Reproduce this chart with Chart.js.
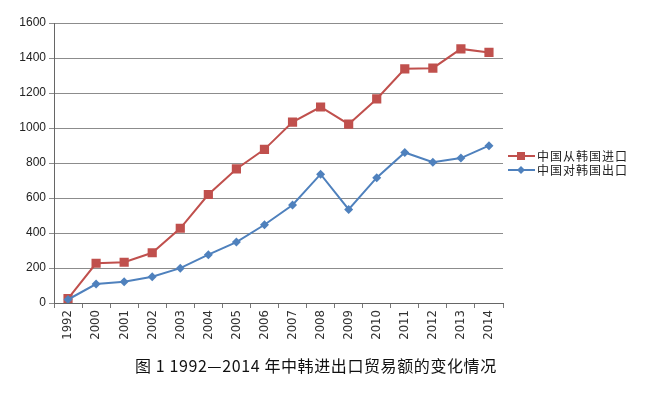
<!DOCTYPE html>
<html>
<head>
<meta charset="utf-8">
<script src="https://cdn.jsdelivr.net/npm/chart.js@4/dist/chart.umd.min.js"></script>
<style>
  html, body { margin: 0; padding: 0; background: #fff; }
  #wrap { width: 648px; height: 395px; position: relative; }
</style>
</head>
<body>
<div id="wrap"><canvas id="tradeChart" width="648" height="395"></canvas></div>
<script>
// 数据（单位：亿美元）
const years = ["1992", "2000", "2001", "2002", "2003", "2004", "2005", "2006", "2007",
               "2008", "2009", "2010", "2011", "2012", "2013", "2014"];
const importFromKorea = [25, 227, 233, 287, 427, 620, 766, 878, 1034, 1120, 1022, 1166, 1338, 1342, 1452, 1432];
const exportToKorea = [20, 108, 121, 150, 199, 276, 348, 447, 560, 736, 535, 716, 860, 804, 828, 899];
const yTicks = [0, 200, 400, 600, 800, 1000, 1200, 1400, 1600];
const seriesNames = ["中国从韩国进口", "中国对韩国出口"];
const caption = "图 1 1992—2014 年中韩进出口贸易额的变化情况";

const RED = "#C0504D";
const BLUE = "#4F81BD";

// 右侧图例 + 底部标题
const extrasPlugin = {
    id: "extras",
    afterDraw(chart) {
        const ctx = chart.ctx;
        ctx.save();
        const rows = [
            { name: seriesNames[0], color: RED, style: "rect", y: 156 },
            { name: seriesNames[1], color: BLUE, style: "diamond", y: 170 }
        ];
        rows.forEach(r => {
            ctx.strokeStyle = r.color;
            ctx.lineWidth = 2;
            ctx.beginPath();
            ctx.moveTo(508, r.y);
            ctx.lineTo(535, r.y);
            ctx.stroke();
            ctx.fillStyle = r.color;
            if (r.style === "rect") {
                ctx.fillRect(517, r.y - 4, 8, 8);
            } else {
                ctx.beginPath();
                ctx.moveTo(521, r.y - 4);
                ctx.lineTo(525, r.y);
                ctx.lineTo(521, r.y + 4);
                ctx.lineTo(517, r.y);
                ctx.closePath();
                ctx.fill();
            }
            ctx.fillStyle = "#222";
            ctx.font = "12px 'Noto Sans CJK SC'";
            ctx.letterSpacing = "1px";
            ctx.textAlign = "left";
            ctx.textBaseline = "middle";
            ctx.fillText(r.name, 537, r.y);
        });

        ctx.fillStyle = "#111";
        ctx.font = "16px 'Noto Sans CJK SC'";
        ctx.letterSpacing = "0.6px";
        ctx.textAlign = "left";
        ctx.textBaseline = "middle";
        ctx.fillText(caption, 135, 366);
        ctx.restore();
    }
};

const ctx = document.getElementById("tradeChart").getContext("2d");
new Chart(ctx, {
    type: "line",
    data: {
        labels: years,
        datasets: [{
            label: seriesNames[1],
            data: exportToKorea,
            borderColor: BLUE,
            backgroundColor: BLUE,
            borderWidth: 2,
            pointStyle: "rectRot",
            pointRadius: 4.5,
            pointBorderWidth: 0,
            tension: 0
        }, {
            label: seriesNames[0],
            data: importFromKorea,
            borderColor: RED,
            backgroundColor: RED,
            borderWidth: 2,
            pointStyle: "rect",
            pointRadius: 6.5,
            pointBorderWidth: 0,
            tension: 0
        }]
    },
    options: {
        responsive: false,
        animation: false,
        layout: { padding: { top: 23, right: 145, left: 0, bottom: 0 } },
        plugins: {
            legend: { display: false },
            tooltip: { enabled: false }
        },
        scales: {
            x: {
                offset: true,
                grid: {
                    offset: true,
                    drawOnChartArea: false,
                    drawTicks: true,
                    tickLength: 5,
                    color: "#777"
                },
                border: { color: "#666", width: 1 },
                ticks: {
                    minRotation: 90,
                    maxRotation: 90,
                    padding: 2,
                    color: "#333",
                    font: { family: "'Liberation Sans Narrow', 'DejaVu Sans Condensed'", size: 13 }
                },
                afterFit(scale) { scale.height = 92; }
            },
            y: {
                min: 0,
                max: 1600,
                afterBuildTicks(scale) { scale.ticks = yTicks.map(v => ({ value: v })); },
                grid: {
                    color: "#8c8c8c",
                    lineWidth: 1,
                    tickLength: 5
                },
                border: { color: "#666", width: 1 },
                ticks: {
                    padding: 3,
                    color: "#222",
                    callback: v => String(v),
                    font: { family: "'Liberation Sans', Arial", size: 12 }
                },
                afterFit(scale) { scale.width = 54; }
            }
        }
    },
    plugins: [extrasPlugin]
});
</script>
</body>
</html>
